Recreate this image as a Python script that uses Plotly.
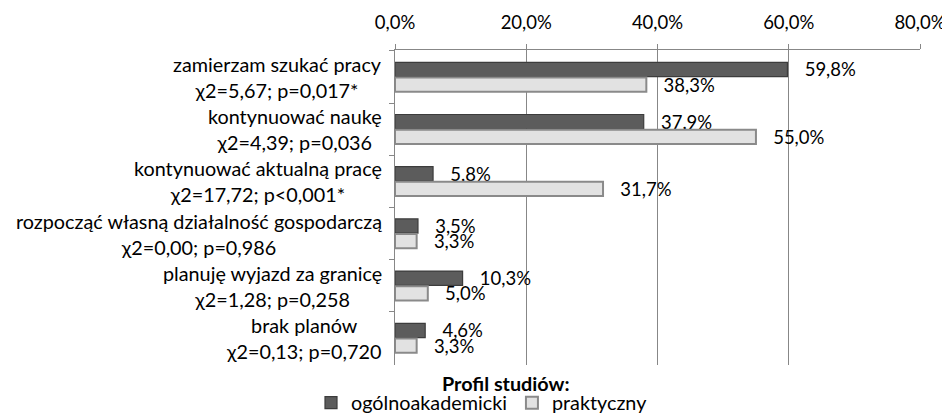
import plotly.graph_objects as go

categories = [
    "zamierzam szukać pracy<br>χ2=5,67; p=0,017*",
    "kontynuować naukę<br>χ2=4,39; p=0,036",
    "kontynuować aktualną pracę<br>χ2=17,72; p<0,001*",
    "rozpocząć własną działalność gospodarczą<br>χ2=0,00; p=0,986",
    "planuję wyjazd za granicę<br>χ2=1,28; p=0,258",
    "brak planów<br>χ2=0,13; p=0,720",
]
ogolnoakademicki = [59.8, 37.9, 5.8, 3.5, 10.3, 4.6]
praktyczny = [38.3, 55.0, 31.7, 3.3, 5.0, 3.3]
series_names = ["ogólnoakademicki", "praktyczny"]
legend_title = "Profil studiów:"
x_ticks = [0, 20, 40, 60, 80]
x_ticktext = [f"{v:.1f}".replace(".", ",") + "%" for v in x_ticks]

FONT = "Lato"
BIG = 19.8
NUM = 18.5
GRID = "#878787"

fig = go.Figure()
fig.add_trace(go.Bar(
    y=categories, x=ogolnoakademicki, orientation="h", name=series_names[0],
    marker=dict(color="#5c5c5c", line=dict(color="#3c3c3c", width=1.2)),
    texttemplate="   %{x:.1f}%", textposition="outside", cliponaxis=False,
    constraintext="none",
    textfont=dict(size=NUM, color="#000", family=FONT),
))
fig.add_trace(go.Bar(
    y=categories, x=praktyczny, orientation="h", name=series_names[1],
    marker=dict(color="#e2e2e2", line=dict(color="#8a8a8a", width=2)),
    texttemplate="   %{x:.1f}%", textposition="outside", cliponaxis=False,
    constraintext="none",
    textfont=dict(size=NUM, color="#000", family=FONT),
))

for c in categories:
    fig.add_annotation(x=0, xref="paper", y=c, yref="y", text=c, showarrow=False,
                       xanchor="right", xshift=-11, align="center",
                       font=dict(size=BIG, color="#000", family=FONT))

fig.add_annotation(x=0.211, xref="paper", y=-0.058, yref="paper", yanchor="middle",
                   xanchor="center", text="<b>" + legend_title + "</b>", showarrow=False,
                   font=dict(size=BIG, color="#000", family=FONT))

fig.update_layout(
    width=942, height=407,
    margin=dict(l=387, r=30, t=42, b=50, autoexpand=False),
    paper_bgcolor="white", plot_bgcolor="white",
    separators=", ",
    barmode="group", bargap=0.42, bargroupgap=0.06,
    font=dict(family=FONT, size=BIG, color="#000"),
    showlegend=True,
    legend=dict(orientation="h", x=-0.16, xanchor="left", y=-0.058, yanchor="top",
                font=dict(size=BIG, family=FONT), itemwidth=30, tracegroupgap=0),
    xaxis=dict(side="top", range=[0, 80], tickvals=x_ticks, ticktext=x_ticktext,
               showgrid=True, gridcolor=GRID, gridwidth=1,
               zeroline=False, showline=True, linecolor=GRID, linewidth=1,
               ticks="outside", ticklen=5, tickcolor=GRID, ticklabelstandoff=8,
               tickfont=dict(size=NUM), automargin=False),
    yaxis=dict(autorange="reversed", showticklabels=False, showline=True,
               linecolor=GRID, linewidth=1, ticks="outside", ticklen=5,
               tickcolor=GRID, tickson="boundaries", showgrid=False, automargin=False),
)

fig.write_html("out.html")
